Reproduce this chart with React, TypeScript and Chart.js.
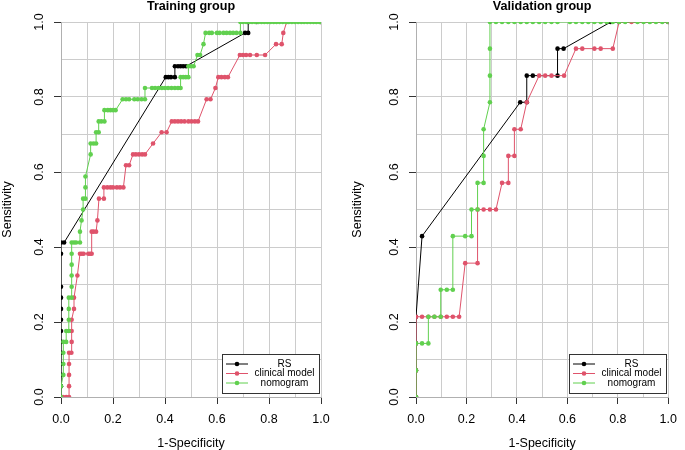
import React, { useEffect, useRef } from 'react';
import { Chart, registerables } from 'chart.js';

Chart.register(...registerables);

const FONT = "'Liberation Sans', Arial, Helvetica, sans-serif";

const SERIES_LABELS = ['RS', 'clinical model', 'nomogram'];
const SERIES_COLORS = ['#000000', '#DF536B', '#61D04F'];
const PANEL_TITLES = ['Training group', 'Validation group'];
const X_TITLE = '1-Specificity';
const Y_TITLE = 'Sensitivity';

// ---------- Training group ----------
const trainRsX = [0, 0, 0, 0, 0, 0, 0, 0, 0, 0, 0, 0, 0, 0.012, 0.403, 0.413, 0.423, 0.438, 0.438, 0.45, 0.46, 0.47, 0.481, 0.708, 0.72, 0.72, 0.753, 1];
const trainRsY = [0, 0.029, 0.059, 0.088, 0.118, 0.147, 0.176, 0.206, 0.235, 0.265, 0.294, 0.382, 0.412, 0.412, 0.853, 0.853, 0.853, 0.853, 0.882, 0.882, 0.882, 0.882, 0.882, 0.971, 0.971, 1, 1, 1];

const trainClinX = [0.008, 0.02, 0.031, 0.031, 0.031, 0.031, 0.031, 0.04, 0.041, 0.041, 0.041, 0.05, 0.05, 0.063, 0.073, 0.08, 0.087, 0.105, 0.112, 0.118, 0.118, 0.125, 0.135, 0.14, 0.146, 0.165, 0.165, 0.178, 0.19, 0.2, 0.215, 0.227, 0.24, 0.25, 0.262, 0.277, 0.288, 0.3, 0.312, 0.323, 0.354, 0.387, 0.406, 0.426, 0.438, 0.45, 0.462, 0.475, 0.49, 0.502, 0.515, 0.527, 0.56, 0.575, 0.594, 0.605, 0.617, 0.63, 0.642, 0.688, 0.7, 0.712, 0.727, 0.753, 0.785, 0.827, 0.849, 0.855, 0.868, 1];
const trainClinY = [0, 0, 0, 0.029, 0.059, 0.088, 0.118, 0.118, 0.147, 0.176, 0.206, 0.235, 0.265, 0.324, 0.382, 0.382, 0.382, 0.382, 0.382, 0.382, 0.441, 0.441, 0.441, 0.471, 0.529, 0.529, 0.559, 0.559, 0.559, 0.559, 0.559, 0.559, 0.559, 0.618, 0.618, 0.647, 0.647, 0.647, 0.647, 0.647, 0.676, 0.706, 0.706, 0.735, 0.735, 0.735, 0.735, 0.735, 0.735, 0.735, 0.735, 0.735, 0.794, 0.794, 0.824, 0.853, 0.853, 0.853, 0.853, 0.912, 0.912, 0.912, 0.912, 0.912, 0.912, 0.941, 0.941, 0.971, 1, 1];

const trainNomoX = [0, 0, 0.009, 0.009, 0.009, 0.009, 0.02, 0.02, 0.03, 0.03, 0.03, 0.03, 0.041, 0.041, 0.041, 0.041, 0.041, 0.041, 0.05, 0.058, 0.073, 0.073, 0.079, 0.085, 0.085, 0.094, 0.094, 0.094, 0.114, 0.114, 0.125, 0.135, 0.135, 0.145, 0.145, 0.155, 0.167, 0.167, 0.18, 0.19, 0.2, 0.21, 0.237, 0.25, 0.262, 0.282, 0.295, 0.31, 0.323, 0.323, 0.35, 0.362, 0.375, 0.388, 0.4, 0.412, 0.425, 0.438, 0.45, 0.46, 0.46, 0.47, 0.48, 0.49, 0.49, 0.5, 0.51, 0.525, 0.535, 0.548, 0.556, 0.57, 0.58, 0.6, 0.61, 0.625, 0.637, 0.65, 0.662, 0.675, 0.69, 0.69, 0.7, 0.712, 0.724, 0.735, 0.747, 0.759, 0.771, 0.782, 0.794, 0.806, 0.818, 0.829, 0.841, 0.853, 0.865, 0.876, 0.888, 0.9, 0.912, 0.924, 0.935, 0.947, 0.959, 0.971, 0.982, 0.994, 1];
const trainNomoY = [0, 0.029, 0.059, 0.088, 0.118, 0.147, 0.147, 0.176, 0.176, 0.206, 0.235, 0.265, 0.265, 0.294, 0.324, 0.353, 0.382, 0.412, 0.412, 0.412, 0.412, 0.441, 0.471, 0.5, 0.529, 0.529, 0.559, 0.588, 0.647, 0.676, 0.676, 0.676, 0.706, 0.706, 0.735, 0.735, 0.735, 0.765, 0.765, 0.765, 0.765, 0.765, 0.794, 0.794, 0.794, 0.794, 0.794, 0.794, 0.794, 0.824, 0.824, 0.824, 0.824, 0.824, 0.824, 0.824, 0.824, 0.824, 0.824, 0.824, 0.853, 0.853, 0.853, 0.853, 0.882, 0.882, 0.882, 0.912, 0.912, 0.941, 0.971, 0.971, 0.971, 0.971, 0.971, 0.971, 0.971, 0.971, 0.971, 0.971, 0.971, 1, 1, 1, 1, 1, 1, 1, 1, 1, 1, 1, 1, 1, 1, 1, 1, 1, 1, 1, 1, 1, 1, 1, 1, 1, 1, 1, 1];

// ---------- Validation group ----------
const validRsX = [0, 0, 0, 0, 0.024, 0.413, 0.439, 0.439, 0.463, 0.561, 0.561, 0.585, 0.772, 1];
const validRsY = [0, 0.071, 0.143, 0.214, 0.429, 0.786, 0.786, 0.857, 0.857, 0.857, 0.929, 0.929, 1, 1];

const validClinX = [0, 0, 0, 0, 0.024, 0.049, 0.073, 0.098, 0.122, 0.146, 0.171, 0.195, 0.244, 0.244, 0.268, 0.293, 0.317, 0.341, 0.366, 0.366, 0.39, 0.39, 0.415, 0.439, 0.488, 0.512, 0.537, 0.587, 0.634, 0.659, 0.707, 0.732, 0.78, 0.805, 0.854, 1];
const validClinY = [0, 0.071, 0.143, 0.214, 0.214, 0.214, 0.214, 0.214, 0.214, 0.214, 0.214, 0.357, 0.357, 0.5, 0.5, 0.5, 0.5, 0.571, 0.571, 0.643, 0.643, 0.714, 0.714, 0.786, 0.857, 0.857, 0.857, 0.857, 0.929, 0.929, 0.929, 0.929, 0.929, 1, 1, 1];

const validNomoX = [0, 0, 0, 0.024, 0.049, 0.049, 0.073, 0.098, 0.098, 0.122, 0.146, 0.146, 0.195, 0.22, 0.22, 0.244, 0.244, 0.268, 0.268, 0.268, 0.293, 0.293, 0.293, 0.293, 0.317, 0.341, 0.366, 0.39, 0.415, 0.439, 0.463, 0.488, 0.512, 0.537, 0.561, 0.61, 0.634, 0.659, 0.683, 0.707, 0.732, 0.756, 0.78, 0.805, 0.829, 0.878, 0.902, 0.927, 0.951, 0.976, 1];
const validNomoY = [0, 0.071, 0.143, 0.143, 0.143, 0.214, 0.214, 0.214, 0.286, 0.286, 0.286, 0.429, 0.429, 0.429, 0.5, 0.5, 0.571, 0.571, 0.643, 0.714, 0.786, 0.857, 0.929, 1, 1, 1, 1, 1, 1, 1, 1, 1, 1, 1, 1, 1, 1, 1, 1, 1, 1, 1, 1, 1, 1, 1, 1, 1, 1, 1, 1];

const zip = (xs: number[], ys: number[]) => xs.map((x, i) => ({ x, y: ys[i] }));

const isMajor = (v: number) => Math.round(v * 10) % 2 === 0;

const legendPlugin = {
  id: 'rLegend',
  afterDatasetsDraw(chart: any) {
    const { ctx, chartArea } = chart;
    const w = 97;
    const h = 39;
    const left = Math.round(chartArea.right - 2 - w);
    const top = Math.round(chartArea.bottom - 4 - h);
    ctx.save();
    ctx.fillStyle = '#ffffff';
    ctx.fillRect(left, top, w, h);
    ctx.strokeStyle = '#333333';
    ctx.lineWidth = 1;
    ctx.strokeRect(left + 0.5, top + 0.5, w, h);
    chart.data.datasets.forEach((ds: any, i: number) => {
      const ry = top + 10 + i * 9.5;
      ctx.strokeStyle = ds.borderColor;
      ctx.lineWidth = 1;
      ctx.beginPath();
      ctx.moveTo(left + 4, ry);
      ctx.lineTo(left + 26, ry);
      ctx.stroke();
      ctx.fillStyle = ds.borderColor;
      ctx.beginPath();
      ctx.arc(left + 15, ry, 2.3, 0, Math.PI * 2);
      ctx.fill();
      ctx.fillStyle = '#000000';
      ctx.font = `10px ${FONT}`;
      ctx.textAlign = 'center';
      ctx.textBaseline = 'middle';
      ctx.fillText(ds.label, left + 62.5, ry);
    });
    ctx.restore();
  },
};

function makeConfig(title: string, series: { x: number; y: number }[][], yWidth: number, padRight: number, yTitlePad: number): any {
  const gridColor = '#cccccc';
  const tickCol = (c: any) => (c.tick && isMajor(c.tick.value) ? '#333333' : 'rgba(0,0,0,0)');
  const tickFont = { family: FONT, size: 12.5 };
  return {
    type: 'scatter',
    data: {
      datasets: series.map((pts, i) => ({
        label: SERIES_LABELS[i],
        data: pts,
        showLine: true,
        borderColor: SERIES_COLORS[i],
        backgroundColor: SERIES_COLORS[i],
        pointBackgroundColor: SERIES_COLORS[i],
        pointBorderWidth: 0,
        pointRadius: 2.3,
        pointHoverRadius: 2.3,
        borderWidth: 1,
        tension: 0,
        clip: 0,
        order: 2 - i,
      })),
    },
    options: {
      animation: false,
      responsive: false,
      devicePixelRatio: 1,
      events: [],
      layout: { padding: { top: 0, left: 0, right: padRight, bottom: 0 } },
      plugins: {
        legend: { display: false },
        tooltip: { enabled: false },
        title: {
          display: true,
          text: title,
          fullSize: false,
          color: '#000000',
          font: { family: FONT, size: 12.6, weight: 'bold', lineHeight: 0.5 },
          padding: { top: 3.8, bottom: 11.9 },
        },
      },
      scales: {
        x: {
          type: 'linear',
          min: 0,
          max: 1,
          afterFit: (s: any) => { s.height = 53; },
          ticks: {
            stepSize: 0.1,
            autoSkip: false,
            maxRotation: 0,
            minRotation: 0,
            padding: 8,
            color: '#000000',
            font: tickFont,
            callback: (v: any) => (isMajor(Number(v)) ? Number(v).toFixed(1) : ''),
          },
          grid: { color: gridColor, lineWidth: 1, tickLength: 7, tickColor: tickCol, tickWidth: 1 },
          border: { display: true, color: '#b0b0b0' },
          title: { display: true, text: X_TITLE, color: '#000000', font: { family: FONT, size: 12.5, lineHeight: 1.1 }, padding: { top: 0, bottom: 0 } },
        },
        y: {
          type: 'linear',
          min: 0,
          max: 1,
          afterFit: (s: any) => { s.width = yWidth; },
          ticks: {
            stepSize: 0.1,
            autoSkip: false,
            minRotation: 90,
            maxRotation: 90,
            crossAlign: 'center',
            padding: 5.5,
            color: '#000000',
            font: tickFont,
            callback: (v: any) => (isMajor(Number(v)) ? Number(v).toFixed(1) : ''),
          },
          grid: { color: gridColor, lineWidth: 1, tickLength: 7, tickColor: tickCol, tickWidth: 1 },
          border: { display: true, color: '#b0b0b0' },
          title: { display: true, text: Y_TITLE, color: '#000000', font: { family: FONT, size: 12.5, lineHeight: 1.2 }, padding: { top: yTitlePad, bottom: 0 } },
        },
      },
    },
    plugins: [legendPlugin],
  };
}

function Panel(props: { left: number; width: number; config: any }) {
  const ref = useRef<HTMLCanvasElement | null>(null);
  useEffect(() => {
    if (!ref.current) return;
    const chart = new Chart(ref.current, props.config);
    return () => chart.destroy();
  }, []);
  return (
    <canvas
      ref={ref}
      width={props.width}
      height={450}
      style={{ position: 'absolute', left: props.left, top: 0, width: props.width, height: 450 }}
    />
  );
}

export default function App() {
  useEffect(() => {
    document.body.style.margin = '0';
  }, []);
  const trainCfg = makeConfig(
    PANEL_TITLES[0],
    [zip(trainRsX, trainRsY), zip(trainClinX, trainClinY), zip(trainNomoX, trainNomoY)],
    61,
    21,
    0
  );
  const validCfg = makeConfig(
    PANEL_TITLES[1],
    [zip(validRsX, validRsY), zip(validClinX, validClinY), zip(validNomoX, validNomoY)],
    74,
    9,
    8.5
  );
  return (
    <div style={{ position: 'fixed', left: 0, top: 0, width: 685, height: 450, background: '#ffffff', overflow: 'hidden' }}>
      <Panel left={0} width={342} config={trainCfg} />
      <Panel left={342} width={343} config={validCfg} />
    </div>
  );
}
